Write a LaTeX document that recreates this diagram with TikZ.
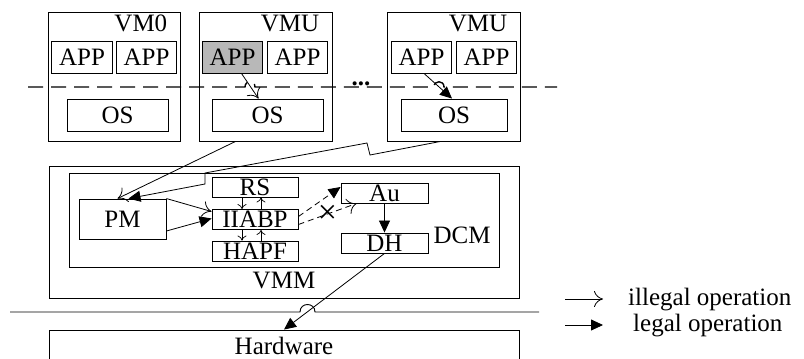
\documentclass[tikz,border=0pt]{standalone}
\usepackage{fontspec}
\setmainfont{Liberation Serif}
\usetikzlibrary{arrows.meta,calc}

\tikzset{
  big/.style={font=\fontsize{25}{28}\selectfont},
  lbl/.style={big, inner sep=0pt, text height=18pt, text depth=1.5pt},
  box/.style={lbl, draw, line width=0.9pt},
  vmbox/.style={box, minimum width=133pt, minimum height=129pt},
  appbox/.style={box, minimum width=60.5pt, minimum height=32pt},
  osbox/.style={box, minimum height=32pt},
  modbox/.style={box, minimum width=86pt, minimum height=20pt},
  legal/.style={line width=0.8pt, -{Triangle[length=12pt,width=11pt]}},
  illegal/.style={line width=0.8pt, -{To[length=9pt,width=16pt]}},
  smallbarb/.style={line width=0.7pt, -{To[length=5pt,width=9pt]}},
  dashline/.style={line width=1.4pt, dash pattern=on 15pt off 8pt}
}

\begin{document}
\begin{tikzpicture}[x=1pt, y=-1pt]
  \clip (0,0) rectangle (804,359);

  % Guest machines
  \node[vmbox, minimum width=132pt] (vm0) at (114,76.5) {};
  \node[vmbox] (vmu1) at (265.5,76.5) {};
  \node[vmbox] (vmu2) at (453.5,76.5) {};
  \node[lbl, anchor=east] (vm0lbl) at ($(vm0.north east)+(-13,12)$) {VM0};
  \node[lbl, anchor=east] (vmu1lbl) at ($(vmu1.north east)+(-13,12)$) {VMU};
  \node[lbl, anchor=east] (vmu2lbl) at ($(vmu2.north east)+(-13,12)$) {VMU};
  \node[big, anchor=base] (dots) at (361,85) {\textbf{...}};

  % Applications
  \node[appbox] (app1) at (82,57) {APP};
  \node[appbox] (app2) at (146.5,57) {APP};
  \node[appbox, fill=black!28] (app3) at (232.5,57) {APP};
  \node[appbox] (app4) at (297.5,57) {APP};
  \node[appbox] (app5) at (421.5,57) {APP};
  \node[appbox] (app6) at (486.5,57) {APP};

  % Guest kernels
  \node[osbox, minimum width=101pt] (os1) at (117.5,115) {OS};
  \node[osbox, minimum width=111pt] (os2) at (267.5,115) {OS};
  \node[osbox, minimum width=106pt] (os3) at (454,115) {OS};

  % User / kernel boundary
  \draw[dashline] (28,87) -- (245,87) .. controls (245,80) and (255,80) .. (255,87)
    -- (434,87) .. controls (434,80) and (444,80) .. (444,87) -- (557,87);

  % Hypervisor
  \node[box, minimum width=470pt, minimum height=132pt] (vmm) at (284,232) {};
  \node[box, minimum width=430pt, minimum height=94pt] (dcm) at (284,220) {};
  \node[lbl] (vmmlbl) at ($(vmm.south)+(0,-18)$) {VMM};
  \node[lbl, anchor=west] (dcmlbl) at ($(dcm.east)+(-66,15)$) {DCM};
  \node[box, minimum width=87pt, minimum height=40pt] (pm) at (122.5,219) {PM};
  \node[modbox] (rs) at (255,187) {RS};
  \node[modbox] (iiabp) at (255,219.5) {IIABP};
  \node[modbox] (hapf) at (255,251) {HAPF};
  \node[modbox, minimum width=87pt] (au) at (384.5,193) {Au};
  \node[modbox, minimum width=87pt] (dh) at (384.5,243) {DH};

  % Hardware boundary
  \draw[line width=0.9pt] (10,312) -- (300,312) .. controls (300,302) and (315,302) .. (315,312) -- (539,312);
  \node[box, minimum width=470pt, minimum height=32pt] (hw) at (284,346) {Hardware};

  % Operations inside the guests
  \draw[illegal] ($(app3.south)+(9,0)$) -- ($(os2.north)+(-9,0)$);
  \draw[legal] ($(app5.south)+(2.5,0)$) -- ($(os3.north)+(-2,0)$);

  % Guest requests to PM
  \draw[illegal] ($(vmu1.south)+(-30,0)$) -- ($(pm.north)+(-5,0)$);
  \draw[legal] ($(vmu2.south)+(-13,0)$) -- (370,155) -- (367,143) -- (205,173) -- (205,184)
    -- ($(pm.north)+(6,0)$);

  % PM to IIABP
  \draw[illegal] (pm.north east) -- ($(iiabp.west)+(0,-8)$);
  \draw[legal] ($(pm.east)+(0,12)$) -- ($(iiabp.west)+(0,-1)$);

  % IIABP with RS and HAPF
  \draw[smallbarb] ($(rs.south)+(-13,0)$) -- ($(iiabp.north)+(-13,0)$);
  \draw[smallbarb] ($(iiabp.north)+(6,0)$) -- ($(rs.south)+(6,0)$);
  \draw[smallbarb] ($(iiabp.south)+(-13,0)$) -- ($(hapf.north)+(-13,0)$);
  \draw[smallbarb] ($(hapf.north)+(6,0)$) -- ($(iiabp.south)+(6,0)$);

  % IIABP to Au
  \draw[legal, dash pattern=on 6pt off 4pt] ($(iiabp.east)+(0,-3)$) -- ($(au.west)+(0,-6)$);
  \draw[illegal, dash pattern=on 6pt off 4pt] ($(iiabp.east)+(0,5)$) -- ($(au.south west)+(16,0)$)
    node[pos=0.5, inner sep=0pt, font=\fontsize{34}{36}\selectfont] (deny) {×};

  % Au, DH and hardware
  \draw[legal] (au.south) -- (dh.north);
  \draw[legal] (dh.south) -- (hw.north);

  % Legend
  \coordinate (ila) at (565,299);
  \coordinate (ilb) at (603,299);
  \coordinate (lga) at (565,325);
  \coordinate (lgb) at (603,325);
  \draw[illegal] (ila) -- (ilb);
  \draw[legal] (lga) -- (lgb);
  \node[big, anchor=base west, inner sep=0pt] (iltext) at (628,305) {illegal operation};
  \node[big, anchor=base west, inner sep=0pt] (lgtext) at (633,331) {legal operation};
\end{tikzpicture}
\end{document}
